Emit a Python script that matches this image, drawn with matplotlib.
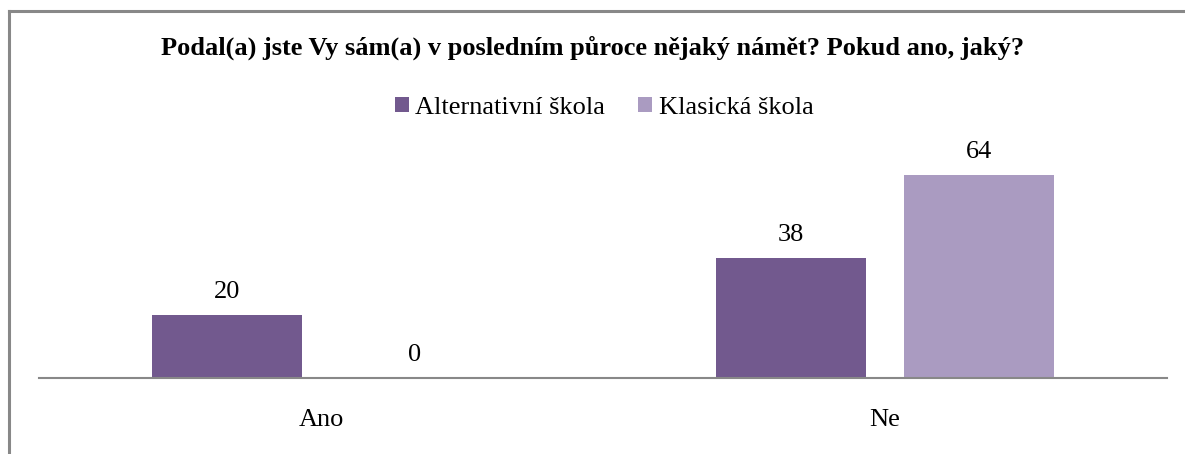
import matplotlib
matplotlib.use("Agg")
import matplotlib.pyplot as plt
from matplotlib.lines import Line2D
import numpy as np

categories = ["Ano", "Ne"]
series_names = ["Alternativní škola", "Klasická škola"]
alternativni = [20, 38]
klasicka = [0, 64]
title = "Podal(a) jste Vy sám(a) v posledním půroce nějaký námět? Pokud ano, jaký?"

colors = ["#72598E", "#AA9BC1"]

plt.rcParams['font.family'] = ['Liberation Serif', 'DejaVu Serif']

fig = plt.figure(figsize=(11.85, 4.54), dpi=100)
W, H = 1185, 454

# ramecek grafu (vlevo a nahore)
fig.add_artist(Line2D([9 / W, 9 / W], [0, 1 - 11 / H], color="#888888", lw=2.2))
fig.add_artist(Line2D([9 / W, 1], [1 - 11 / H, 1 - 11 / H], color="#888888", lw=2.2))

ax = fig.add_axes([39 / W, 76 / H, (1167 - 39) / W, 224 / H])

x = np.arange(len(categories))
bw = 0.266
off = 0.1667
b1 = ax.bar(x - off, alternativni, bw, color=colors[0], label=series_names[0])
b2 = ax.bar(x + off, klasicka, bw, color=colors[1], label=series_names[1])

for bars, vals in [(b1, alternativni), (b2, klasicka)]:
    for rect, v in zip(bars, vals):
        ax.annotate(str(v), (rect.get_x() + rect.get_width() / 2, v),
                    xytext=(0, 12), textcoords="offset pixels",
                    ha="center", va="bottom", fontsize=19)

ax.set_xlim(-0.5, 1.5)
ax.set_ylim(0, 224 / 3.17)
ax.set_yticks([])
ax.set_xticks(x)
ax.set_xticklabels(categories, fontsize=19)
ax.tick_params(axis="x", length=0, pad=22)
for s in ["top", "right", "left"]:
    ax.spines[s].set_visible(False)
ax.spines["bottom"].set_color("#888888")
ax.spines["bottom"].set_linewidth(1.5)

fig.text(0.5, 1 - 48 / H, title, ha="center", va="center", fontsize=19, fontweight="bold")
fig.legend(handles=[b1, b2], loc="center", bbox_to_anchor=(604 / W, 1 - 108 / H), ncol=2,
           frameon=False, fontsize=19, handlelength=0.53, handleheight=0.53,
           handletextpad=0.25, columnspacing=1.25)

fig.savefig("out.png", dpi=100)
